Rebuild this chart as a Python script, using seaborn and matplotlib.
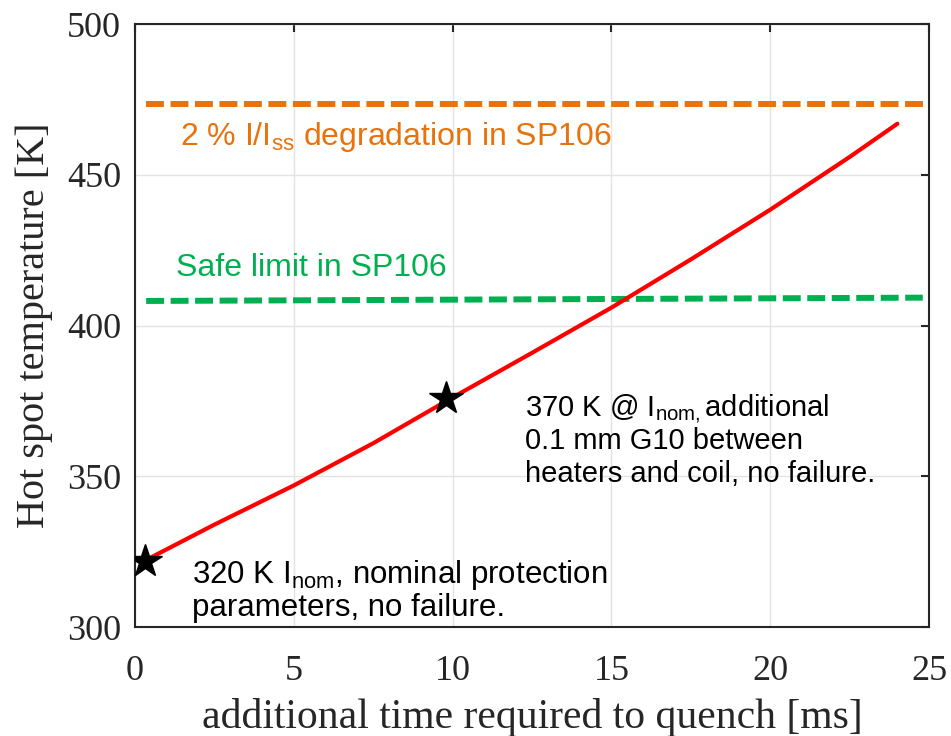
import matplotlib
matplotlib.use("Agg")
import matplotlib.pyplot as plt
import seaborn as sns
import pandas as pd

# data
time_ms = [0.3, 2.5, 5.0, 7.5, 9.8, 12.5, 15.0, 17.5, 20.0, 22.5, 24.0]
hot_spot_K = [322, 334, 347, 361, 375, 391, 406, 422, 438.5, 456, 467]
star_time = [0.3, 9.8]
star_temp = [322, 376]
degr_x = [0.35, 24.8]
degr_y = [473.5, 473.5]
safe_x = [0.35, 24.8]
safe_y = [408.2, 409.3]
xticks = [0, 5, 10, 15, 20, 25]
yticks = [300, 350, 400, 450, 500]

sns.set_theme(style="white")
plt.rcParams['mathtext.fontset'] = 'custom'
plt.rcParams['mathtext.rm'] = 'Liberation Sans'
plt.rcParams['mathtext.it'] = 'Liberation Sans'

fig = plt.figure(figsize=(9.51, 7.36), dpi=100)
ax = fig.add_axes([0.142, 0.148, 0.835, 0.819])

ax.grid(True, color="#e3e3e3", lw=1)
ax.set_axisbelow(True)

sns.lineplot(x=degr_x, y=degr_y, ax=ax, color="#E8720C", lw=4.3, dashes=False)
ax.lines[-1].set_dashes((3, 1.1))
sns.lineplot(x=safe_x, y=safe_y, ax=ax, color="#00B050", lw=4.3, dashes=False)
ax.lines[-1].set_dashes((3, 1.1))
sns.lineplot(x=time_ms, y=hot_spot_K, ax=ax, color="#FF0000", lw=3.0, sort=False)
ax.plot(star_time, star_temp, linestyle="none", marker="*", markersize=25, color="black", zorder=5)

ax.set_xlim(0, 25)
ax.set_ylim(300, 500)
ax.set_xticks(xticks)
ax.set_yticks(yticks)
serif = ["Liberation Serif", "DejaVu Serif"]
ax.set_xticklabels([str(v) for v in xticks], family=serif, fontsize=26, color="#262626")
ax.set_yticklabels([str(v) for v in yticks], family=serif, fontsize=26, color="#262626")
ax.tick_params(direction="in", length=6, width=1.5, color="#262626", top=True, right=True)
ax.tick_params(axis="x", pad=20)
ax.tick_params(axis="y", pad=10)
ax.set_xlabel("additional time required to quench [ms]", family=serif, fontsize=30, color="#262626", labelpad=7)
ax.set_ylabel("Hot spot temperature [K]", family=serif, fontsize=29, color="#262626", labelpad=10)
for s in ax.spines.values():
    s.set_visible(True)
    s.set_color("#262626")
    s.set_linewidth(1.5)

sans = ["Liberation Sans", "DejaVu Sans"]
ax.text(1.42, 462.5, r"2 % I/I$_{\mathrm{ss}}$ degradation in SP106", color="#E8720C", family=sans, fontsize=23, va="center")
ax.text(1.29, 419, "Safe limit in SP106", color="#00B050", family=sans, fontsize=23, va="center")
ax.text(12.28, 372.6, r"370 K @ I$_{\mathrm{nom,}}$additional", color="black", family=sans, fontsize=21, va="center")
ax.text(12.28, 361.7, "0.1 mm G10 between", color="black", family=sans, fontsize=21, va="center")
ax.text(12.28, 350.7, "heaters and coil, no failure.", color="black", family=sans, fontsize=21, va="center")
ax.text(1.79, 317.3, r"320 K I$_{\mathrm{nom}}$, nominal protection", color="black", family=sans, fontsize=22.5, va="center")
ax.text(1.79, 306.3, "parameters, no failure.", color="black", family=sans, fontsize=22.5, va="center")

fig.savefig("out.png", dpi=100)
